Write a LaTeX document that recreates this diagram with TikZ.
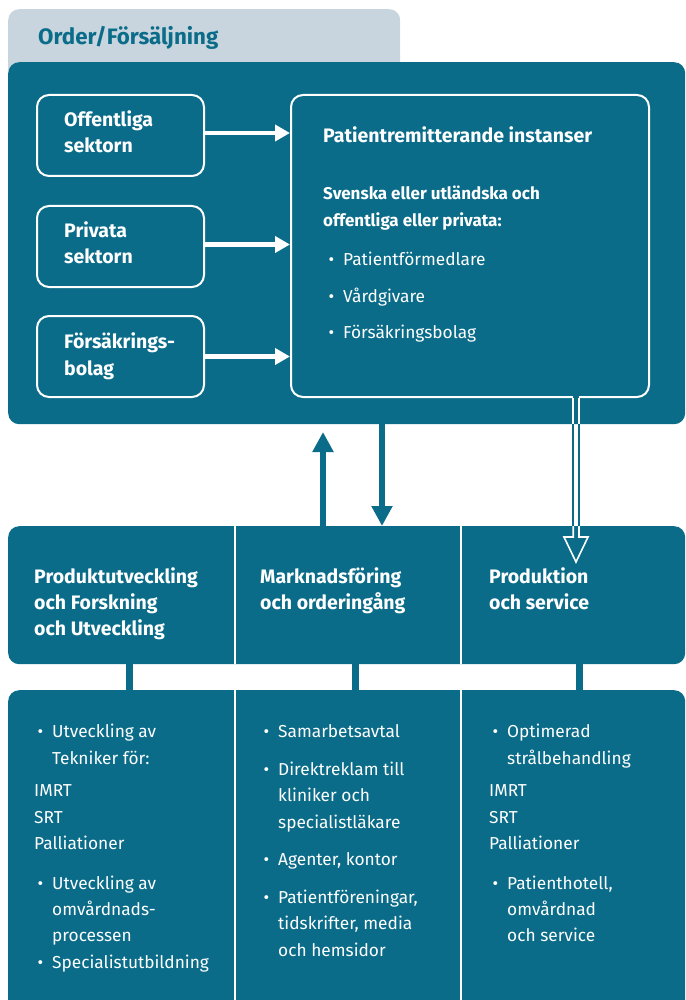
\documentclass[tikz,border=0pt]{standalone}
\usepackage{fontspec}
\setmainfont{Fira Sans}
\usetikzlibrary{arrows.meta}
\definecolor{petrol}{RGB}{10,108,137}
\definecolor{tabgray}{RGB}{200,213,222}
\newcommand\tline[5][body]{\node[#1, anchor=base west] (#2) at (#3,#4) {#5};}
\newcommand\bul{\llap{•\hspace{9pt}}}
\begin{document}
\begin{tikzpicture}[x=1pt,y=-1pt,
  body/.style={inner sep=0pt, text=white, font=\fontsize{17.3}{20}\selectfont},
  head/.style={inner sep=0pt, text=white, font=\fontsize{19.5}{22}\selectfont\bfseries},
  subhead/.style={inner sep=0pt, text=white, font=\fontsize{17}{20}\selectfont\bfseries},
  ttl/.style={inner sep=0pt, text=petrol, font=\fontsize{22.3}{24}\selectfont\bfseries},
  panel/.style={fill=petrol, rounded corners=11pt, inner sep=0pt, anchor=north west},
  wbox/.style={draw=white, line width=2pt, rounded corners=12pt, inner sep=0pt, anchor=north west},
  warrow/.style={draw=white, line width=4.5pt, -{Triangle[width=16pt,length=15pt]}},
  tarrow/.style={draw=petrol, line width=6pt, -{Triangle[width=20pt,length=20pt]}},
  divider/.style={draw=white, line width=2pt},
  bar/.style={draw=petrol, line width=7pt},
]
\useasboundingbox (0,0) rectangle (685,1000);
% tab
\node[panel, fill=tabgray, minimum width=392pt, minimum height=70pt] (tab) at (8,9) {};
\tline[ttl]{title}{38}{45}{Order/Försäljning}
% main panel
\node[panel, minimum width=677pt, minimum height=362pt] (main) at (8,62) {};
% left boxes
\node[wbox, minimum width=167pt, minimum height=81pt] (off) at (36,94) {};
\node[wbox, minimum width=167pt, minimum height=81pt] (pri) at (36,205) {};
\node[wbox, minimum width=167pt, minimum height=81pt] (fors) at (36,315) {};
\tline[head]{off1}{64}{127}{Offentliga}
\tline[head]{off2}{64}{153}{sektorn}
\tline[head]{pri1}{64}{237}{Privata}
\tline[head]{pri2}{64}{263}{sektorn}
\tline[head]{fors1}{64}{348}{Försäkrings-}
\tline[head]{fors2}{64}{375}{bolag}
% right box
\node[wbox, minimum width=358pt, minimum height=302pt] (rem) at (290,94) {};
\tline[head]{rem1}{323}{143}{Patientremitterande instanser}
\tline[subhead]{rem2}{323}{200}{Svenska eller utländska och}
\tline[subhead]{rem3}{323}{227}{offentliga eller privata:}
\tline{rem4}{343}{265}{\bul Patientförmedlare}
\tline{rem5}{343}{302}{\bul Vårdgivare}
\tline{rem6}{343}{338}{\bul Försäkringsbolag}
% white arrows
\draw[warrow] ([yshift=2.5pt]off.east) -- ([yshift=2.5pt]off.east -| rem.west);
\draw[warrow] ([yshift=2pt]pri.east) -- ([yshift=2pt]pri.east -| rem.west);
\draw[warrow] ([yshift=0pt]fors.east) -- ([yshift=0pt]fors.east -| rem.west);
% middle row
\node[panel, minimum width=677pt, minimum height=138pt] (mid) at (8,526) {};
% bottom row
\node[panel, minimum width=677pt, minimum height=340pt] (bot) at (8,690) {};
\coordinate (d1) at (235,0);
\coordinate (d2) at (461,0);
\draw[divider] (mid.north -| d1) -- (mid.south -| d1);
\draw[divider] (mid.north -| d2) -- (mid.south -| d2);
\draw[divider] (bot.north -| d1) -- (bot.south -| d1);
\draw[divider] (bot.north -| d2) -- (bot.south -| d2);
% bars between rows
\coordinate (b1) at (129,0);
\coordinate (b2) at (355,0);
\coordinate (b3) at (579,0);
\draw[bar] (mid.south -| b1) -- (bot.north -| b1);
\draw[bar] (mid.south -| b2) -- (bot.north -| b2);
\draw[bar] (mid.south -| b3) -- (bot.north -| b3);
% teal arrows
\coordinate (upx) at (323,0);
\coordinate (dnx) at (382,0);
\coordinate (uptip) at (323,432);
\draw[tarrow] (mid.north -| upx) -- (uptip);
\draw[tarrow] (main.south -| dnx) -- (mid.north -| dnx);
% hollow arrow
\coordinate (hl) at (573.2,0);
\coordinate (hr) at (579,0);
\fill[petrol] (573.2,393) rectangle (579,399);
\draw[white, line width=1.6pt] (rem.south -| hl) -- (main.south -| hl);
\draw[white, line width=1.6pt] (rem.south -| hr) -- (main.south -| hr);
\draw[petrol, line width=1.6pt] (main.south -| hl) -- (mid.north -| hl);
\draw[petrol, line width=1.6pt] (main.south -| hr) -- (mid.north -| hr);
\draw[white, line width=1.6pt, line join=miter] (mid.north -| hl) -- (573.2,537) -- (564,537) -- (576,562) -- (588,537) -- (579,537) -- (mid.north -| hr);
% middle texts
\tline[head]{m11}{34}{583}{Produktutveckling}
\tline[head]{m12}{34}{609}{och Forskning}
\tline[head]{m13}{34}{635}{och Utveckling}
\tline[head]{m21}{260}{583}{Marknadsföring}
\tline[head]{m22}{260}{609}{och orderingång}
\tline[head]{m31}{489}{583}{Produktion}
\tline[head]{m32}{489}{609}{och service}
% bottom col 1
\tline{c11}{52}{737}{\bul Utveckling av}
\tline{c12}{52}{764}{Tekniker för:}
\tline{c13}{34}{796}{IMRT}
\tline{c14}{34}{823}{SRT}
\tline{c15}{34}{849}{Palliationer}
\tline{c16}{52}{889}{\bul Utveckling av}
\tline{c17}{52}{915}{omvårdnads-}
\tline{c18}{52}{941}{processen}
\tline{c19}{52}{968}{\bul Specialistutbildning}
% bottom col 2
\tline{c21}{278}{737}{\bul Samarbetsavtal}
\tline{c22}{278}{775}{\bul Direktreklam till}
\tline{c23}{278}{801}{kliniker och}
\tline{c24}{278}{828}{specialistläkare}
\tline{c25}{278}{865}{\bul Agenter, kontor}
\tline{c26}{278}{903}{\bul Patientföreningar,}
\tline{c27}{278}{929}{tidskrifter, media}
\tline{c28}{278}{956}{och hemsidor}
% bottom col 3
\tline{c31}{507}{737}{\bul Optimerad}
\tline{c32}{507}{764}{strålbehandling}
\tline{c33}{489}{796}{IMRT}
\tline{c34}{489}{823}{SRT}
\tline{c35}{489}{849}{Palliationer}
\tline{c36}{507}{889}{\bul Patienthotell,}
\tline{c37}{507}{915}{omvårdnad}
\tline{c38}{507}{941}{och service}
\end{tikzpicture}
\end{document}
